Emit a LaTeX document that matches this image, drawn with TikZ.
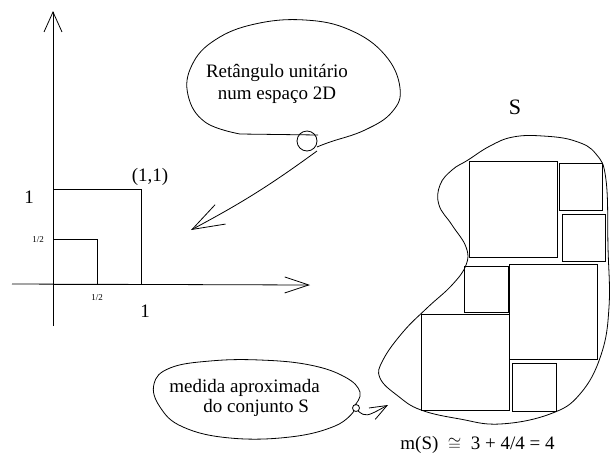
\documentclass[tikz,border=0pt]{standalone}
\usepackage{fontspec}
\setmainfont{Liberation Serif}
\usetikzlibrary{arrows.meta}

\begin{document}
\begin{tikzpicture}[x=1pt,y=-1pt,line width=0.8pt,
    rotulo/.style={font=\fontsize{19}{22}\selectfont,inner sep=0pt},
    miudo/.style={font=\fontsize{9}{10}\selectfont,inner sep=0pt}]
            \useasboundingbox (0,0) rectangle (610,459);
            %eixos
            \coordinate (O) at (53,284);
            \coordinate (yBaixo) at (53,326);
            \coordinate (yTopo) at (53,11);
            \coordinate (xEsq) at (12,284);
            \coordinate (xFim) at (310,285);
            \draw [-{Straight Barb[length=20pt,width=18pt]}] (yBaixo) -- (yTopo);
            \draw [-{Straight Barb[length=24pt,width=16pt]}] (xEsq) -- (xFim);
            %quadrado unitario e meio
            \draw (O) rectangle (141,189);
            \draw (O) rectangle (97,239);
            \node [rotulo] (umY) at (29,197) {1};
            \node [rotulo] (umX) at (145,311) {1};
            \node [rotulo] (canto) at (150,177) {(1,1)};
            \node [miudo] (meioY) at (38,240) {1/2};
            \node [miudo] (meioX) at (97,298) {1/2};
            %balao de cima
            \node [rotulo,align=center] (txtRet) at (277,84) {Ret\^angulo unit\'ario\\num espa\c{c}o 2D};
            \draw (318,135) -- (240,134) -- plot[smooth,tension=0.7] coordinates
                {(240,134) (205,122) (188,95) (192,65) (215,40) (255,24) (305,20)
                 (350,30) (385,55) (400,88) (392,112) (365,130) (330,142) (317,147)};
            \draw (307,141) ellipse [x radius=10, y radius=10];
            \coordinate (caudaA) at (317,151);
            \coordinate (pontaA) at (191,230);
            \draw [-{Straight Barb[length=32pt,width=22pt]}] (caudaA) to[bend left=4] (pontaA);
            %conjunto S
            \node [rotulo,font=\fontsize{22}{24}\selectfont] (lblS) at (515,107) {S};
            \draw plot[smooth cycle,tension=0.7] coordinates
                {(468,160) (490,146) (513,137) (543,136) (575,141) (596,154) (606,180)
                 (608,247) (609,307) (601,355) (580,394) (550,414) (500,424) (460,419)
                 (421,410) (398,396) (380,378) (383,360) (403,332) (427,308) (452,285)
                 (466,265) (466,247) (452,225) (439,205) (440,185) (452,170)};
            \foreach \xa/\ya/\xb/\yb in {469/161/557/257, 559/163/602/210, 562/214/605/261,
                464/266/508/312, 509/264/597/359, 421/314/509/410, 512/363/556/411}
                \draw (\xa,\ya) rectangle (\xb,\yb);
            \node [rotulo,anchor=west] (lblMS) at (400,445) {m(S)~~$\cong$~~3 + 4/4 = 4};
            %balao de baixo
            \node [rotulo,font=\fontsize{19}{20}\selectfont,align=left,anchor=west] (txtMed) at (169,398)
                {medida aproximada\\\hspace*{34pt}do conjunto S};
            \draw plot[smooth,tension=0.7] coordinates
                {(355,405) (360,392) (345,377) (310,365) (260,360) (210,361) (170,368)
                 (154,384) (160,407) (183,427) (230,438) (290,437) (335,426) (354,411)};
            \draw (356,408) circle [radius=3.5];
            \coordinate (caudaB) at (358,411);
            \coordinate (pontaB) at (388,405);
            \draw [-{Straight Barb[length=17pt,width=13pt]}] (caudaB) .. controls (366,417) .. (pontaB);
    \end{tikzpicture}
\end{document}
